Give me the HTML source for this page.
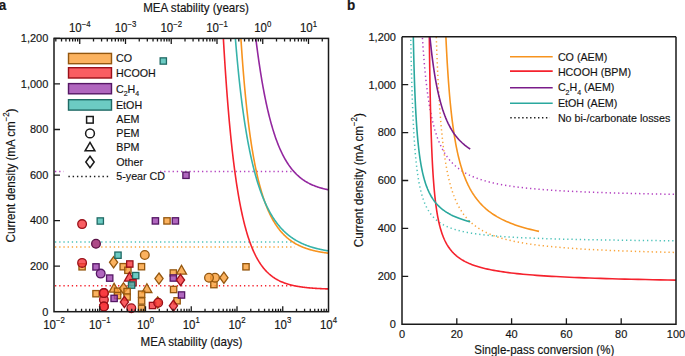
<!DOCTYPE html><html><head><meta charset="utf-8"><style>html,body{margin:0;padding:0;background:#fff;}svg{display:block;}text{font-family:"Liberation Sans", sans-serif;fill:#1a1a1a;stroke:#000;stroke-width:0.15px;}</style></head><body>
<svg width="685" height="356" viewBox="0 0 685 356">
<rect width="685" height="356" fill="#fff"/>
<text x="-1.3" y="10.2" style="font-size:13.5px;font-weight:bold" transform="matrix(1 0 0 1.045 0 -0.46)">a</text>
<text x="347.1" y="10.2" style="font-size:13.5px;font-weight:bold" transform="matrix(1 0 0 1.045 0 -0.46)">b</text>
<line x1="55" y1="171.5" x2="294.72" y2="171.5" stroke="#b342c0" stroke-width="1.5" stroke-dasharray="1.3 2.9"/>
<line x1="55" y1="242" x2="294.72" y2="242" stroke="#4cc2b9" stroke-width="1.5" stroke-dasharray="1.3 2.9"/>
<line x1="55" y1="246.9" x2="294.72" y2="246.9" stroke="#f9a43a" stroke-width="1.5" stroke-dasharray="1.3 2.9"/>
<line x1="55" y1="285.8" x2="294.72" y2="285.8" stroke="#f5222d" stroke-width="1.5" stroke-dasharray="1.3 2.9"/>
<clipPath id="ca"><rect x="54" y="38.4" width="274.5" height="273.3"/></clipPath>
<path d="M222.48 22.39 L223.02 32.21 L223.55 41.61 L224.09 50.61 L224.62 59.23 L225.15 67.49 L225.69 75.41 L226.22 83.00 L226.75 90.29 L227.29 97.28 L227.82 103.99 L228.36 110.43 L228.89 116.62 L229.42 122.57 L229.96 128.29 L230.49 133.79 L231.02 139.08 L231.56 144.17 L232.09 149.06 L232.63 153.78 L233.16 158.32 L233.69 162.69 L234.23 166.90 L234.76 170.96 L235.30 174.86 L235.83 178.63 L236.36 182.27 L236.90 185.77 L237.43 189.15 L237.96 192.41 L238.50 195.56 L239.03 198.59 L239.57 201.52 L240.10 204.35 L240.63 207.08 L241.17 209.72 L241.70 212.26 L242.23 214.72 L242.77 217.10 L243.30 219.39 L243.84 221.61 L244.37 223.76 L244.90 225.83 L245.44 227.83 L245.97 229.77 L246.50 231.64 L247.04 233.45 L247.57 235.20 L248.11 236.90 L248.64 238.53 L249.17 240.12 L249.71 241.65 L250.24 243.13 L250.77 244.57 L251.31 245.96 L251.84 247.30 L252.38 248.60 L252.91 249.86 L253.44 251.08 L253.98 252.26 L254.51 253.40 L255.04 254.51 L255.58 255.58 L256.11 256.62 L256.65 257.62 L257.18 258.59 L257.71 259.53 L258.25 260.45 L258.78 261.33 L259.31 262.19 L259.85 263.02 L260.38 263.82 L260.92 264.60 L261.45 265.35 L261.98 266.08 L262.52 266.79 L263.05 267.48 L263.58 268.14 L264.12 268.79 L264.65 269.41 L265.19 270.02 L265.72 270.60 L266.25 271.17 L266.79 271.72 L267.32 272.26 L267.85 272.77 L268.39 273.27 L268.92 273.76 L269.46 274.23 L269.99 274.69 L270.52 275.13 L271.06 275.56 L271.59 275.98 L272.12 276.38 L272.66 276.78 L273.19 277.16 L273.73 277.52 L274.26 277.88 L274.79 278.23 L275.33 278.56 L275.86 278.89 L276.39 279.21 L276.93 279.51 L277.46 279.81 L278.00 280.10 L278.53 280.38 L279.06 280.65 L279.60 280.91 L280.13 281.17 L280.66 281.41 L281.20 281.65 L281.73 281.89 L282.27 282.11 L282.80 282.33 L283.33 282.54 L283.87 282.75 L284.40 282.95 L284.93 283.14 L285.47 283.33 L286.00 283.51 L286.54 283.69 L287.07 283.86 L287.60 284.03 L288.14 284.19 L288.67 284.35 L289.20 284.50 L289.74 284.65 L290.27 284.79 L290.81 284.93 L291.34 285.06 L291.87 285.19 L292.41 285.32 L292.94 285.44 L293.47 285.56 L294.01 285.68 L294.54 285.79 L295.08 285.90 L295.61 286.01 L296.14 286.11 L296.68 286.21 L297.21 286.30 L297.74 286.40 L298.28 286.49 L298.81 286.58 L299.35 286.66 L299.88 286.75 L300.41 286.83 L300.95 286.91 L301.48 286.98 L302.01 287.05 L302.55 287.13 L303.08 287.20 L303.62 287.26 L304.15 287.33 L304.68 287.39 L305.22 287.45 L305.75 287.51 L306.28 287.57 L306.82 287.63 L307.35 287.68 L307.89 287.73 L308.42 287.79 L308.95 287.84 L309.49 287.88 L310.02 287.93 L310.55 287.98 L311.09 288.02 L311.62 288.06 L312.16 288.11 L312.69 288.15 L313.22 288.19 L313.76 288.22 L314.29 288.26 L314.82 288.30 L315.36 288.33 L315.89 288.36 L316.43 288.40 L316.96 288.43 L317.49 288.46 L318.03 288.49 L318.56 288.52 L319.09 288.55 L319.63 288.57 L320.16 288.60 L320.70 288.63 L321.23 288.65 L321.76 288.68 L322.30 288.70 L322.83 288.72 L323.36 288.74 L323.90 288.77 L324.43 288.79 L324.97 288.81 L325.50 288.83 L326.03 288.85 L326.57 288.86 L327.10 288.88 L327.63 288.90 L328.17 288.92 L328.70 288.93 L329.24 288.95 L329.77 288.96 L330.30 288.98" fill="none" stroke="#f5222d" stroke-width="1.6" clip-path="url(#ca)"/>
<path d="M239.86 21.34 L240.28 28.48 L240.70 35.31 L241.12 41.86 L241.55 48.15 L241.97 54.18 L242.39 59.97 L242.81 65.54 L243.24 70.90 L243.66 76.05 L244.08 81.01 L244.50 85.79 L244.93 90.40 L245.35 94.85 L245.77 99.13 L246.20 103.27 L246.62 107.27 L247.04 111.14 L247.46 114.87 L247.89 118.48 L248.31 121.98 L248.73 125.36 L249.15 128.63 L249.58 131.80 L250.00 134.88 L250.42 137.86 L250.84 140.74 L251.27 143.54 L251.69 146.26 L252.11 148.90 L252.54 151.45 L252.96 153.94 L253.38 156.35 L253.80 158.70 L254.23 160.97 L254.65 163.19 L255.07 165.34 L255.49 167.43 L255.92 169.47 L256.34 171.45 L256.76 173.38 L257.18 175.25 L257.61 177.08 L258.03 178.85 L258.45 180.58 L258.87 182.27 L259.30 183.91 L259.72 185.51 L260.14 187.07 L260.57 188.59 L260.99 190.07 L261.41 191.51 L261.83 192.92 L262.26 194.29 L262.68 195.63 L263.10 196.94 L263.52 198.21 L263.95 199.45 L264.37 200.67 L264.79 201.85 L265.21 203.01 L265.64 204.13 L266.06 205.23 L266.48 206.31 L266.91 207.36 L267.33 208.38 L267.75 209.39 L268.17 210.36 L268.60 211.32 L269.02 212.25 L269.44 213.16 L269.86 214.06 L270.29 214.93 L270.71 215.78 L271.13 216.61 L271.55 217.42 L271.98 218.22 L272.40 219.00 L272.82 219.76 L273.25 220.50 L273.67 221.23 L274.09 221.94 L274.51 222.63 L274.94 223.31 L275.36 223.98 L275.78 224.63 L276.20 225.26 L276.63 225.88 L277.05 226.49 L277.47 227.09 L277.89 227.67 L278.32 228.24 L278.74 228.80 L279.16 229.35 L279.58 229.88 L280.01 230.40 L280.43 230.92 L280.85 231.42 L281.28 231.91 L281.70 232.39 L282.12 232.86 L282.54 233.32 L282.97 233.77 L283.39 234.21 L283.81 234.64 L284.23 235.06 L284.66 235.48 L285.08 235.88 L285.50 236.28 L285.92 236.67 L286.35 237.05 L286.77 237.42 L287.19 237.79 L287.62 238.15 L288.04 238.50 L288.46 238.84 L288.88 239.18 L289.31 239.51 L289.73 239.83 L290.15 240.14 L290.57 240.45 L291.00 240.76 L291.42 241.06 L291.84 241.35 L292.26 241.63 L292.69 241.91 L293.11 242.18 L293.53 242.45 L293.96 242.72 L294.38 242.97 L294.80 243.23 L295.22 243.47 L295.65 243.72 L296.07 243.95 L296.49 244.19 L296.91 244.41 L297.34 244.64 L297.76 244.86 L298.18 245.07 L298.60 245.28 L299.03 245.49 L299.45 245.69 L299.87 245.89 L300.30 246.08 L300.72 246.27 L301.14 246.46 L301.56 246.64 L301.99 246.82 L302.41 247.00 L302.83 247.17 L303.25 247.34 L303.68 247.50 L304.10 247.66 L304.52 247.82 L304.94 247.98 L305.37 248.13 L305.79 248.28 L306.21 248.43 L306.63 248.57 L307.06 248.71 L307.48 248.85 L307.90 248.99 L308.33 249.12 L308.75 249.25 L309.17 249.38 L309.59 249.50 L310.02 249.63 L310.44 249.75 L310.86 249.86 L311.28 249.98 L311.71 250.09 L312.13 250.20 L312.55 250.31 L312.97 250.42 L313.40 250.53 L313.82 250.63 L314.24 250.73 L314.67 250.83 L315.09 250.92 L315.51 251.02 L315.93 251.11 L316.36 251.20 L316.78 251.29 L317.20 251.38 L317.62 251.47 L318.05 251.55 L318.47 251.64 L318.89 251.72 L319.31 251.80 L319.74 251.87 L320.16 251.95 L320.58 252.03 L321.01 252.10 L321.43 252.17 L321.85 252.24 L322.27 252.31 L322.70 252.38 L323.12 252.45 L323.54 252.51 L323.96 252.58 L324.39 252.64 L324.81 252.70 L325.23 252.76 L325.65 252.82 L326.08 252.88 L326.50 252.94 L326.92 252.99 L327.34 253.05 L327.77 253.10 L328.19 253.15 L328.61 253.21 L329.04 253.26 L329.46 253.31 L329.88 253.35 L330.30 253.40" fill="none" stroke="#f7931e" stroke-width="1.6" clip-path="url(#ca)"/>
<path d="M234.21 23.19 L234.66 29.31 L235.12 35.21 L235.58 40.90 L236.04 46.39 L236.49 51.69 L236.95 56.80 L237.41 61.75 L237.87 66.53 L238.32 71.16 L238.78 75.63 L239.24 79.97 L239.70 84.17 L240.15 88.23 L240.61 92.18 L241.07 96.00 L241.53 99.71 L241.98 103.31 L242.44 106.80 L242.90 110.19 L243.36 113.49 L243.81 116.69 L244.27 119.80 L244.73 122.83 L245.19 125.77 L245.65 128.63 L246.10 131.42 L246.56 134.13 L247.02 136.77 L247.48 139.33 L247.93 141.84 L248.39 144.27 L248.85 146.65 L249.31 148.96 L249.76 151.22 L250.22 153.42 L250.68 155.56 L251.14 157.65 L251.59 159.69 L252.05 161.68 L252.51 163.62 L252.97 165.52 L253.42 167.37 L253.88 169.17 L254.34 170.94 L254.80 172.66 L255.26 174.34 L255.71 175.98 L256.17 177.59 L256.63 179.15 L257.09 180.68 L257.54 182.18 L258.00 183.64 L258.46 185.07 L258.92 186.47 L259.37 187.84 L259.83 189.17 L260.29 190.48 L260.75 191.76 L261.20 193.01 L261.66 194.23 L262.12 195.43 L262.58 196.60 L263.03 197.74 L263.49 198.86 L263.95 199.96 L264.41 201.03 L264.87 202.08 L265.32 203.11 L265.78 204.12 L266.24 205.10 L266.70 206.07 L267.15 207.01 L267.61 207.94 L268.07 208.84 L268.53 209.73 L268.98 210.60 L269.44 211.45 L269.90 212.28 L270.36 213.10 L270.81 213.90 L271.27 214.68 L271.73 215.45 L272.19 216.20 L272.64 216.94 L273.10 217.66 L273.56 218.36 L274.02 219.06 L274.47 219.74 L274.93 220.40 L275.39 221.05 L275.85 221.69 L276.31 222.32 L276.76 222.93 L277.22 223.54 L277.68 224.13 L278.14 224.70 L278.59 225.27 L279.05 225.83 L279.51 226.37 L279.97 226.91 L280.42 227.43 L280.88 227.94 L281.34 228.45 L281.80 228.94 L282.25 229.42 L282.71 229.90 L283.17 230.36 L283.63 230.82 L284.08 231.27 L284.54 231.71 L285.00 232.14 L285.46 232.56 L285.92 232.98 L286.37 233.38 L286.83 233.78 L287.29 234.17 L287.75 234.55 L288.20 234.93 L288.66 235.30 L289.12 235.66 L289.58 236.02 L290.03 236.36 L290.49 236.71 L290.95 237.04 L291.41 237.37 L291.86 237.69 L292.32 238.01 L292.78 238.32 L293.24 238.62 L293.69 238.92 L294.15 239.22 L294.61 239.50 L295.07 239.78 L295.53 240.06 L295.98 240.33 L296.44 240.60 L296.90 240.86 L297.36 241.12 L297.81 241.37 L298.27 241.62 L298.73 241.86 L299.19 242.10 L299.64 242.33 L300.10 242.56 L300.56 242.78 L301.02 243.00 L301.47 243.22 L301.93 243.43 L302.39 243.64 L302.85 243.85 L303.30 244.05 L303.76 244.24 L304.22 244.44 L304.68 244.63 L305.13 244.81 L305.59 245.00 L306.05 245.18 L306.51 245.35 L306.97 245.53 L307.42 245.69 L307.88 245.86 L308.34 246.02 L308.80 246.18 L309.25 246.34 L309.71 246.50 L310.17 246.65 L310.63 246.80 L311.08 246.94 L311.54 247.09 L312.00 247.23 L312.46 247.36 L312.91 247.50 L313.37 247.63 L313.83 247.76 L314.29 247.89 L314.74 248.02 L315.20 248.14 L315.66 248.26 L316.12 248.38 L316.58 248.50 L317.03 248.61 L317.49 248.73 L317.95 248.84 L318.41 248.94 L318.86 249.05 L319.32 249.15 L319.78 249.26 L320.24 249.36 L320.69 249.46 L321.15 249.55 L321.61 249.65 L322.07 249.74 L322.52 249.83 L322.98 249.92 L323.44 250.01 L323.90 250.10 L324.35 250.18 L324.81 250.27 L325.27 250.35 L325.73 250.43 L326.18 250.51 L326.64 250.59 L327.10 250.66 L327.56 250.74 L328.02 250.81 L328.47 250.88 L328.93 250.95 L329.39 251.02 L329.85 251.09 L330.30 251.16" fill="none" stroke="#37b3aa" stroke-width="1.6" clip-path="url(#ca)"/>
<path d="M254.04 23.21 L254.57 27.89 L255.10 32.44 L255.63 36.86 L256.16 41.15 L256.69 45.32 L257.22 49.37 L257.75 53.31 L258.27 57.14 L258.80 60.85 L259.33 64.47 L259.86 67.98 L260.39 71.39 L260.92 74.71 L261.45 77.93 L261.98 81.07 L262.51 84.12 L263.04 87.08 L263.57 89.96 L264.10 92.76 L264.63 95.48 L265.16 98.13 L265.69 100.70 L266.22 103.21 L266.75 105.64 L267.28 108.01 L267.81 110.31 L268.34 112.55 L268.87 114.72 L269.40 116.84 L269.93 118.90 L270.46 120.91 L270.99 122.85 L271.52 124.75 L272.05 126.59 L272.57 128.39 L273.10 130.13 L273.63 131.83 L274.16 133.48 L274.69 135.09 L275.22 136.65 L275.75 138.17 L276.28 139.65 L276.81 141.09 L277.34 142.49 L277.87 143.85 L278.40 145.18 L278.93 146.47 L279.46 147.73 L279.99 148.95 L280.52 150.14 L281.05 151.29 L281.58 152.42 L282.11 153.51 L282.64 154.58 L283.17 155.62 L283.70 156.63 L284.23 157.61 L284.76 158.57 L285.29 159.50 L285.82 160.40 L286.34 161.28 L286.87 162.14 L287.40 162.98 L287.93 163.79 L288.46 164.58 L288.99 165.35 L289.52 166.10 L290.05 166.83 L290.58 167.54 L291.11 168.23 L291.64 168.90 L292.17 169.56 L292.70 170.19 L293.23 170.81 L293.76 171.42 L294.29 172.01 L294.82 172.58 L295.35 173.13 L295.88 173.68 L296.41 174.20 L296.94 174.72 L297.47 175.22 L298.00 175.70 L298.53 176.18 L299.06 176.64 L299.59 177.09 L300.12 177.53 L300.64 177.95 L301.17 178.37 L301.70 178.77 L302.23 179.16 L302.76 179.54 L303.29 179.92 L303.82 180.28 L304.35 180.63 L304.88 180.97 L305.41 181.31 L305.94 181.63 L306.47 181.95 L307.00 182.26 L307.53 182.56 L308.06 182.85 L308.59 183.14 L309.12 183.41 L309.65 183.68 L310.18 183.94 L310.71 184.20 L311.24 184.45 L311.77 184.69 L312.30 184.93 L312.83 185.16 L313.36 185.38 L313.89 185.60 L314.41 185.81 L314.94 186.02 L315.47 186.22 L316.00 186.41 L316.53 186.60 L317.06 186.79 L317.59 186.97 L318.12 187.15 L318.65 187.32 L319.18 187.48 L319.71 187.65 L320.24 187.80 L320.77 187.96 L321.30 188.11 L321.83 188.25 L322.36 188.39 L322.89 188.53 L323.42 188.67 L323.95 188.80 L324.48 188.93 L325.01 189.05 L325.54 189.17 L326.07 189.29 L326.60 189.40 L327.13 189.51 L327.66 189.62 L328.19 189.73 L328.71 189.83 L329.24 189.93 L329.77 190.03 L330.30 190.13" fill="none" stroke="#93279f" stroke-width="1.6" clip-path="url(#ca)"/>
<rect x="160.15" y="57.85" width="6.3" height="6.3" fill="#47beb4" fill-opacity="0.8" stroke="#206a65" stroke-width="1.3"/>
<rect x="182.85" y="172.15" width="6.3" height="6.3" fill="#9c40ae" fill-opacity="0.8" stroke="#551764" stroke-width="1.3"/>
<circle cx="82.1" cy="224.1" r="4.35" fill="#f8353b" fill-opacity="0.8" stroke="#9a1019" stroke-width="1.3"/>
<rect x="97.15" y="217.85" width="6.3" height="6.3" fill="#47beb4" fill-opacity="0.8" stroke="#206a65" stroke-width="1.3"/>
<rect x="152.25" y="217.75" width="6.3" height="6.3" fill="#9c40ae" fill-opacity="0.8" stroke="#551764" stroke-width="1.3"/>
<rect x="163.85" y="217.75" width="6.3" height="6.3" fill="#fa9f37" fill-opacity="0.8" stroke="#94570f" stroke-width="1.3"/>
<rect x="172.25" y="217.75" width="6.3" height="6.3" fill="#9c40ae" fill-opacity="0.8" stroke="#551764" stroke-width="1.3"/>
<circle cx="96" cy="243.8" r="4.35" fill="#ad4a87" fill-opacity="1" stroke="#5a1246" stroke-width="1.3"/>
<path d="M113.6 256.7 L117.7 262.3 L113.6 267.9 L109.5 262.3 Z" fill="#fa9f37" fill-opacity="0.8" stroke="#94570f" stroke-width="1.3"/>
<rect x="114.85" y="252.05" width="6.3" height="6.3" fill="#47beb4" fill-opacity="0.8" stroke="#206a65" stroke-width="1.3"/>
<circle cx="144.8" cy="255" r="4.35" fill="#fa9f37" fill-opacity="0.8" stroke="#94570f" stroke-width="1.3"/>
<rect x="78.95" y="263.65" width="6.3" height="6.3" fill="#fa9f37" fill-opacity="0.8" stroke="#94570f" stroke-width="1.3"/>
<circle cx="82.1" cy="262.9" r="4.35" fill="#f8353b" fill-opacity="0.8" stroke="#9a1019" stroke-width="1.3"/>
<rect x="92.85" y="263.75" width="6.3" height="6.3" fill="#9c40ae" fill-opacity="0.8" stroke="#551764" stroke-width="1.3"/>
<circle cx="100.7" cy="273.6" r="4.35" fill="#9c40ae" fill-opacity="0.8" stroke="#551764" stroke-width="1.3"/>
<rect x="106.55" y="274.95" width="6.3" height="6.3" fill="#9c40ae" fill-opacity="0.8" stroke="#551764" stroke-width="1.3"/>
<rect x="120.05" y="263.55" width="6.3" height="6.3" fill="#fa9f37" fill-opacity="0.8" stroke="#94570f" stroke-width="1.3"/>
<rect x="124.75" y="267.15" width="6.3" height="6.3" fill="#fa9f37" fill-opacity="0.8" stroke="#94570f" stroke-width="1.3"/>
<rect x="126.65" y="260.85" width="6.3" height="6.3" fill="#f8353b" fill-opacity="0.8" stroke="#9a1019" stroke-width="1.3"/>
<rect x="138.35" y="263.55" width="6.3" height="6.3" fill="#fa9f37" fill-opacity="0.8" stroke="#94570f" stroke-width="1.3"/>
<path d="M129.4 272.3 L134.4 281.1 L124.4 281.1 Z" fill="#f8353b" fill-opacity="0.8" stroke="#9a1019" stroke-width="1.3"/>
<rect x="132.55" y="272.45" width="6.3" height="6.3" fill="#47beb4" fill-opacity="0.8" stroke="#206a65" stroke-width="1.3"/>
<rect x="129.85" y="279.55" width="6.3" height="6.3" fill="#f8353b" fill-opacity="0.8" stroke="#9a1019" stroke-width="1.3"/>
<rect x="128.45" y="281.95" width="6.3" height="6.3" fill="#47beb4" fill-opacity="0.8" stroke="#206a65" stroke-width="1.3"/>
<path d="M159 273 L163.1 278.6 L159 284.2 L154.9 278.6 Z" fill="#fa9f37" fill-opacity="0.8" stroke="#94570f" stroke-width="1.3"/>
<rect x="92.85" y="290.55" width="6.3" height="6.3" fill="#fa9f37" fill-opacity="0.8" stroke="#94570f" stroke-width="1.3"/>
<circle cx="103.9" cy="299.8" r="4.35" fill="#f8353b" fill-opacity="0.8" stroke="#9a1019" stroke-width="1.3"/>
<circle cx="103.9" cy="293.1" r="4.35" fill="#f8353b" fill-opacity="0.8" stroke="#9a1019" stroke-width="1.3"/>
<circle cx="103.9" cy="293.1" r="4.35" fill="#f8353b" fill-opacity="0.8" stroke="#9a1019" stroke-width="1.3"/>
<circle cx="103.9" cy="306.5" r="4.35" fill="#f8353b" fill-opacity="0.8" stroke="#9a1019" stroke-width="1.3"/>
<circle cx="103.9" cy="306.5" r="4.35" fill="#f8353b" fill-opacity="0.8" stroke="#9a1019" stroke-width="1.3"/>
<path d="M114.1 283.3 L119.1 292.1 L109.1 292.1 Z" fill="#fa9f37" fill-opacity="0.8" stroke="#94570f" stroke-width="1.3"/>
<rect x="114.45" y="288.05" width="6.3" height="6.3" fill="#fa9f37" fill-opacity="0.8" stroke="#94570f" stroke-width="1.3"/>
<path d="M123.5 282.8 L127.6 288.4 L123.5 294 L119.4 288.4 Z" fill="#fa9f37" fill-opacity="0.8" stroke="#94570f" stroke-width="1.3"/>
<rect x="123.95" y="288.45" width="6.3" height="6.3" fill="#fa9f37" fill-opacity="0.8" stroke="#94570f" stroke-width="1.3"/>
<rect x="114.45" y="292.45" width="6.3" height="6.3" fill="#fa9f37" fill-opacity="0.8" stroke="#94570f" stroke-width="1.3"/>
<rect x="110.95" y="295.25" width="6.3" height="6.3" fill="#9c40ae" fill-opacity="0.8" stroke="#551764" stroke-width="1.3"/>
<rect x="123.95" y="293.85" width="6.3" height="6.3" fill="#fa9f37" fill-opacity="0.8" stroke="#94570f" stroke-width="1.3"/>
<path d="M124.4 296.4 L128.5 302 L124.4 307.6 L120.3 302 Z" fill="#f8353b" fill-opacity="0.8" stroke="#9a1019" stroke-width="1.3"/>
<circle cx="131.3" cy="308.3" r="4.35" fill="#f8353b" fill-opacity="0.8" stroke="#9a1019" stroke-width="1.3"/>
<path d="M146.9 283.7 L151.9 292.5 L141.9 292.5 Z" fill="#fa9f37" fill-opacity="0.8" stroke="#94570f" stroke-width="1.3"/>
<rect x="138.45" y="291.05" width="6.3" height="6.3" fill="#fa9f37" fill-opacity="0.8" stroke="#94570f" stroke-width="1.3"/>
<rect x="138.45" y="297.85" width="6.3" height="6.3" fill="#fa9f37" fill-opacity="0.8" stroke="#94570f" stroke-width="1.3"/>
<rect x="138.45" y="305.25" width="6.3" height="6.3" fill="#fa9f37" fill-opacity="0.8" stroke="#94570f" stroke-width="1.3"/>
<path d="M157.7 296.9 L161.8 302.5 L157.7 308.1 L153.6 302.5 Z" fill="#fa9f37" fill-opacity="0.8" stroke="#94570f" stroke-width="1.3"/>
<rect x="149.35" y="302.35" width="6.3" height="6.3" fill="#f8353b" fill-opacity="0.8" stroke="#9a1019" stroke-width="1.3"/>
<circle cx="158.2" cy="302.8" r="4.35" fill="#f8353b" fill-opacity="0.8" stroke="#9a1019" stroke-width="1.3"/>
<path d="M181.5 265.3 L186.5 274.1 L176.5 274.1 Z" fill="#fa9f37" fill-opacity="0.8" stroke="#94570f" stroke-width="1.3"/>
<rect x="170.15" y="269.85" width="6.3" height="6.3" fill="#fa9f37" fill-opacity="0.8" stroke="#94570f" stroke-width="1.3"/>
<rect x="170.15" y="274.85" width="6.3" height="6.3" fill="#9c40ae" fill-opacity="0.8" stroke="#551764" stroke-width="1.3"/>
<path d="M180.5 274.4 L184.6 280 L180.5 285.6 L176.4 280 Z" fill="#f8353b" fill-opacity="0.8" stroke="#9a1019" stroke-width="1.3"/>
<rect x="170.45" y="286.35" width="6.3" height="6.3" fill="#fa9f37" fill-opacity="0.8" stroke="#94570f" stroke-width="1.3"/>
<rect x="173.95" y="297.65" width="6.3" height="6.3" fill="#fa9f37" fill-opacity="0.8" stroke="#94570f" stroke-width="1.3"/>
<rect x="178.35" y="291.85" width="6.3" height="6.3" fill="#9c40ae" fill-opacity="0.8" stroke="#551764" stroke-width="1.3"/>
<path d="M173.4 300.2 L177.5 305.8 L173.4 311.4 L169.3 305.8 Z" fill="#f8353b" fill-opacity="0.8" stroke="#9a1019" stroke-width="1.3"/>
<rect x="210.75" y="281.45" width="6.3" height="6.3" fill="#fa9f37" fill-opacity="0.8" stroke="#94570f" stroke-width="1.3"/>
<circle cx="215" cy="277.8" r="4.35" fill="#fa9f37" fill-opacity="0.8" stroke="#94570f" stroke-width="1.3"/>
<circle cx="209" cy="277.8" r="4.35" fill="#fa9f37" fill-opacity="0.8" stroke="#94570f" stroke-width="1.3"/>
<path d="M223.9 272.1 L228 277.7 L223.9 283.3 L219.8 277.7 Z" fill="#fa9f37" fill-opacity="0.8" stroke="#94570f" stroke-width="1.3"/>
<rect x="242.85" y="263.65" width="6.3" height="6.3" fill="#fa9f37" fill-opacity="0.8" stroke="#94570f" stroke-width="1.3"/>
<rect x="63.5" y="44" width="95.5" height="137.5" fill="#fff"/>
<rect x="68.5" y="53.4" width="43" height="10.3" fill="#fbb25f" stroke="#94570f" stroke-width="1.4"/>
<text x="116" y="62.45" style="font-size:10.7px" transform="matrix(1 0 0 1.045 0 -2.81)">CO</text>
<rect x="68.5" y="67.7" width="43" height="10.3" fill="#f95d62" stroke="#9a1019" stroke-width="1.4"/>
<text x="116" y="76.75" style="font-size:10.7px" transform="matrix(1 0 0 1.045 0 -3.45)">HCOOH</text>
<rect x="68.5" y="83.6" width="43" height="10.2" fill="#b066be" stroke="#551764" stroke-width="1.4"/>
<text x="116" y="92.6" style="font-size:10.7px" transform="matrix(1 0 0 1.045 0 -4.17)">C<tspan dy="3.2" style="font-size:7px">2</tspan><tspan dy="-3.2">H</tspan><tspan dy="3.2" style="font-size:7px">4</tspan></text>
<rect x="68.5" y="99.7" width="43" height="10.4" fill="#6ccbc3" stroke="#206a65" stroke-width="1.4"/>
<text x="116" y="108.8" style="font-size:10.7px" transform="matrix(1 0 0 1.045 0 -4.9)">EtOH</text>
<rect x="86.6" y="116.5" width="6.6" height="6.6" fill="#fff" stroke="#1a1a1a" stroke-width="1.5"/>
<circle cx="90" cy="133.4" r="4.4" fill="#fff" stroke="#1a1a1a" stroke-width="1.5"/>
<path d="M90 142.4 L94.9 150.8 L85.1 150.8 Z" fill="#fff" stroke="#1a1a1a" stroke-width="1.5"/>
<path d="M90 156.2 L94.2 162 L90 167.8 L85.8 162 Z" fill="#fff" stroke="#1a1a1a" stroke-width="1.5"/>
<line x1="68.4" y1="176.5" x2="109" y2="176.5" stroke="#1a1a1a" stroke-width="1.5" stroke-dasharray="1.4 2.86"/>
<text x="116.3" y="123.4" style="font-size:10.7px" transform="matrix(1 0 0 1.045 0 -5.55)">AEM</text>
<text x="116.3" y="137.2" style="font-size:10.7px" transform="matrix(1 0 0 1.045 0 -6.17)">PEM</text>
<text x="116.3" y="151.5" style="font-size:10.7px" transform="matrix(1 0 0 1.045 0 -6.82)">BPM</text>
<text x="116.3" y="165.7" style="font-size:10.7px" transform="matrix(1 0 0 1.045 0 -7.46)">Other</text>
<text x="116.3" y="180.4" style="font-size:10.7px" transform="matrix(1 0 0 1.045 0 -8.12)">5-year CD</text>
<rect x="54" y="38.4" width="274.5" height="273.3" fill="none" stroke="#1a1a1a" stroke-width="1.5"/>
<path d="M67.77 311.70v-3.00 M75.83 311.70v-3.00 M81.54 311.70v-3.00 M85.98 311.70v-3.00 M89.60 311.70v-3.00 M92.66 311.70v-3.00 M95.32 311.70v-3.00 M97.66 311.70v-3.00 M99.75 311.70v-5.50 M113.52 311.70v-3.00 M121.58 311.70v-3.00 M127.29 311.70v-3.00 M131.73 311.70v-3.00 M135.35 311.70v-3.00 M138.41 311.70v-3.00 M141.07 311.70v-3.00 M143.41 311.70v-3.00 M145.50 311.70v-5.50 M159.27 311.70v-3.00 M167.33 311.70v-3.00 M173.04 311.70v-3.00 M177.48 311.70v-3.00 M181.10 311.70v-3.00 M184.16 311.70v-3.00 M186.82 311.70v-3.00 M189.16 311.70v-3.00 M191.25 311.70v-5.50 M205.02 311.70v-3.00 M213.08 311.70v-3.00 M218.79 311.70v-3.00 M223.23 311.70v-3.00 M226.85 311.70v-3.00 M229.91 311.70v-3.00 M232.57 311.70v-3.00 M234.91 311.70v-3.00 M237.00 311.70v-5.50 M250.77 311.70v-3.00 M258.83 311.70v-3.00 M264.54 311.70v-3.00 M268.98 311.70v-3.00 M272.60 311.70v-3.00 M275.66 311.70v-3.00 M278.32 311.70v-3.00 M280.66 311.70v-3.00 M282.75 311.70v-5.50 M296.52 311.70v-3.00 M304.58 311.70v-3.00 M310.29 311.70v-3.00 M314.73 311.70v-3.00 M318.35 311.70v-3.00 M321.41 311.70v-3.00 M324.07 311.70v-3.00 M326.41 311.70v-3.00 M55.82 38.40v3.00 M61.53 38.40v3.00 M65.97 38.40v3.00 M69.59 38.40v3.00 M72.65 38.40v3.00 M75.30 38.40v3.00 M77.65 38.40v3.00 M79.74 38.40v5.50 M93.51 38.40v3.00 M101.57 38.40v3.00 M107.28 38.40v3.00 M111.72 38.40v3.00 M115.34 38.40v3.00 M118.40 38.40v3.00 M121.05 38.40v3.00 M123.40 38.40v3.00 M125.49 38.40v5.50 M139.26 38.40v3.00 M147.32 38.40v3.00 M153.03 38.40v3.00 M157.47 38.40v3.00 M161.09 38.40v3.00 M164.15 38.40v3.00 M166.80 38.40v3.00 M169.15 38.40v3.00 M171.24 38.40v5.50 M185.01 38.40v3.00 M193.07 38.40v3.00 M198.78 38.40v3.00 M203.22 38.40v3.00 M206.84 38.40v3.00 M209.90 38.40v3.00 M212.55 38.40v3.00 M214.90 38.40v3.00 M216.99 38.40v5.50 M230.76 38.40v3.00 M238.82 38.40v3.00 M244.53 38.40v3.00 M248.97 38.40v3.00 M252.59 38.40v3.00 M255.65 38.40v3.00 M258.30 38.40v3.00 M260.65 38.40v3.00 M262.74 38.40v5.50 M276.51 38.40v3.00 M284.57 38.40v3.00 M290.28 38.40v3.00 M294.72 38.40v3.00 M298.34 38.40v3.00 M301.40 38.40v3.00 M304.05 38.40v3.00 M306.40 38.40v3.00 M308.49 38.40v5.50 M322.26 38.40v3.00 M54.00 266.15h6 M54.00 220.60h6 M54.00 175.05h6 M54.00 129.50h6 M54.00 83.95h6 M54.00 38.40h6" stroke="#1a1a1a" stroke-width="1.3" fill="none"/>
<text x="48.3" y="315.6" text-anchor="end" style="font-size:11px" transform="matrix(1 0 0 1.045 0 -14.2)">0</text>
<text x="48.3" y="270.05" text-anchor="end" style="font-size:11px" transform="matrix(1 0 0 1.045 0 -12.15)">200</text>
<text x="48.3" y="224.5" text-anchor="end" style="font-size:11px" transform="matrix(1 0 0 1.045 0 -10.1)">400</text>
<text x="48.3" y="178.95" text-anchor="end" style="font-size:11px" transform="matrix(1 0 0 1.045 0 -8.05)">600</text>
<text x="48.3" y="133.4" text-anchor="end" style="font-size:11px" transform="matrix(1 0 0 1.045 0 -6)">800</text>
<text x="48.3" y="87.85" text-anchor="end" style="font-size:11px" transform="matrix(1 0 0 1.045 0 -3.95)">1,000</text>
<text x="48.3" y="42.3" text-anchor="end" style="font-size:11px" transform="matrix(1 0 0 1.045 0 -1.9)">1,200</text>
<text x="54" y="328.7" text-anchor="middle" style="font-size:11.5px" transform="matrix(1 0 0 1.045 0 -14.79)">10<tspan dy="-5.6" style="font-size:7.8px">−2</tspan></text>
<text x="99.75" y="328.7" text-anchor="middle" style="font-size:11.5px" transform="matrix(1 0 0 1.045 0 -14.79)">10<tspan dy="-5.6" style="font-size:7.8px">−1</tspan></text>
<text x="145.5" y="328.7" text-anchor="middle" style="font-size:11.5px" transform="matrix(1 0 0 1.045 0 -14.79)">10<tspan dy="-5.6" style="font-size:7.8px">0</tspan></text>
<text x="191.25" y="328.7" text-anchor="middle" style="font-size:11.5px" transform="matrix(1 0 0 1.045 0 -14.79)">10<tspan dy="-5.6" style="font-size:7.8px">1</tspan></text>
<text x="237" y="328.7" text-anchor="middle" style="font-size:11.5px" transform="matrix(1 0 0 1.045 0 -14.79)">10<tspan dy="-5.6" style="font-size:7.8px">2</tspan></text>
<text x="282.75" y="328.7" text-anchor="middle" style="font-size:11.5px" transform="matrix(1 0 0 1.045 0 -14.79)">10<tspan dy="-5.6" style="font-size:7.8px">3</tspan></text>
<text x="328.5" y="328.7" text-anchor="middle" style="font-size:11.5px" transform="matrix(1 0 0 1.045 0 -14.79)">10<tspan dy="-5.6" style="font-size:7.8px">4</tspan></text>
<text x="79.74" y="32.4" text-anchor="middle" style="font-size:11.5px" transform="matrix(1 0 0 1.045 0 -1.46)">10<tspan dy="-5.6" style="font-size:7.8px">−4</tspan></text>
<text x="125.49" y="32.4" text-anchor="middle" style="font-size:11.5px" transform="matrix(1 0 0 1.045 0 -1.46)">10<tspan dy="-5.6" style="font-size:7.8px">−3</tspan></text>
<text x="171.24" y="32.4" text-anchor="middle" style="font-size:11.5px" transform="matrix(1 0 0 1.045 0 -1.46)">10<tspan dy="-5.6" style="font-size:7.8px">−2</tspan></text>
<text x="216.99" y="32.4" text-anchor="middle" style="font-size:11.5px" transform="matrix(1 0 0 1.045 0 -1.46)">10<tspan dy="-5.6" style="font-size:7.8px">−1</tspan></text>
<text x="262.74" y="32.4" text-anchor="middle" style="font-size:11.5px" transform="matrix(1 0 0 1.045 0 -1.46)">10<tspan dy="-5.6" style="font-size:7.8px">0</tspan></text>
<text x="308.49" y="32.4" text-anchor="middle" style="font-size:11.5px" transform="matrix(1 0 0 1.045 0 -1.46)">10<tspan dy="-5.6" style="font-size:7.8px">1</tspan></text>
<text x="191.5" y="346" text-anchor="middle" style="font-size:11.6px" transform="matrix(1 0 0 1.045 0 -15.57)">MEA stability (days)</text>
<text x="196" y="11.8" text-anchor="middle" style="font-size:11.6px" transform="matrix(1 0 0 1.045 0 -0.53)">MEA stability (years)</text>
<text transform="translate(15.1 175.5) rotate(-90) scale(1 1.045)" text-anchor="middle" style="font-size:11.6px">Current density (mA cm<tspan dy="-5.6" style="font-size:7.8px">−2</tspan><tspan dy="5.6">)</tspan></text>
<clipPath id="cb"><rect x="402" y="36.8" width="274" height="287.4"/></clipPath>
<path d="M410.63 31.36 L410.77 39.01 L410.91 46.38 L411.05 53.48 L411.20 60.32 L411.35 66.92 L411.51 73.28 L411.68 79.41 L411.85 85.32 L412.02 91.01 L412.20 96.50 L412.39 101.79 L412.59 106.89 L412.79 111.80 L412.99 116.53 L413.21 121.10 L413.43 125.50 L413.66 129.74 L413.89 133.83 L414.14 137.76 L414.39 141.56 L414.65 145.22 L414.92 148.75 L415.20 152.15 L415.49 155.42 L415.79 158.58 L416.10 161.63 L416.42 164.56 L416.75 167.39 L417.09 170.11 L417.44 172.74 L417.80 175.27 L418.18 177.71 L418.57 180.06 L418.97 182.33 L419.39 184.51 L419.82 186.62 L420.26 188.65 L420.72 190.61 L421.19 192.49 L421.68 194.31 L422.19 196.06 L422.72 197.75 L423.26 199.38 L423.82 200.94 L424.40 202.46 L425.00 203.91 L425.61 205.32 L426.25 206.67 L426.91 207.97 L427.60 209.23 L428.31 210.44 L429.04 211.61 L429.79 212.74 L430.57 213.82 L431.38 214.87 L432.21 215.88 L433.07 216.85 L433.97 217.78 L434.89 218.69 L435.84 219.56 L436.82 220.40 L437.84 221.20 L438.89 221.98 L439.98 222.73 L441.11 223.46 L442.27 224.15 L443.47 224.83 L444.71 225.47 L445.99 226.10 L447.32 226.70 L448.69 227.28 L450.11 227.84 L451.58 228.38 L453.09 228.90 L454.66 229.40 L456.28 229.88 L457.95 230.35 L459.68 230.79 L461.47 231.23 L463.32 231.64 L465.23 232.04 L467.20 232.43 L469.25 232.80 L471.36 233.16 L473.54 233.51 L475.80 233.84 L478.13 234.16 L480.54 234.47 L483.03 234.77 L485.61 235.06 L488.27 235.34 L491.02 235.61 L493.87 235.86 L496.81 236.11 L499.85 236.35 L502.99 236.58 L506.24 236.81 L509.60 237.02 L513.07 237.23 L516.66 237.43 L520.37 237.62 L524.20 237.80 L528.17 237.98 L532.26 238.15 L536.50 238.32 L540.88 238.48 L545.41 238.63 L550.08 238.78 L554.92 238.93 L559.92 239.06 L565.09 239.20 L570.43 239.32 L575.96 239.45 L581.66 239.57 L587.57 239.68 L593.67 239.79 L599.97 239.90 L606.49 240.00 L613.23 240.10 L620.20 240.20 L627.40 240.29 L634.84 240.38 L642.54 240.46 L650.49 240.54 L658.71 240.62 L667.21 240.70 L676.00 240.77" fill="none" stroke="#4cc2b9" stroke-width="1.5" stroke-dasharray="1.3 2.9" clip-path="url(#cb)"/>
<path d="M436.14 32.79 L436.41 40.89 L436.69 48.71 L436.98 56.24 L437.28 63.50 L437.59 70.50 L437.91 77.25 L438.24 83.75 L438.59 90.02 L438.94 96.06 L439.31 101.88 L439.68 107.50 L440.07 112.91 L440.48 118.12 L440.89 123.15 L441.33 127.99 L441.77 132.67 L442.23 137.17 L442.71 141.51 L443.20 145.69 L443.71 149.72 L444.23 153.61 L444.77 157.35 L445.33 160.96 L445.91 164.44 L446.51 167.80 L447.13 171.03 L447.77 174.15 L448.43 177.15 L449.11 180.05 L449.81 182.84 L450.54 185.53 L451.30 188.12 L452.07 190.62 L452.88 193.03 L453.71 195.35 L454.57 197.59 L455.46 199.75 L456.37 201.83 L457.32 203.83 L458.30 205.77 L459.31 207.63 L460.36 209.42 L461.44 211.15 L462.55 212.82 L463.71 214.43 L464.90 215.98 L466.13 217.47 L467.41 218.91 L468.72 220.30 L470.08 221.64 L471.49 222.93 L472.94 224.17 L474.44 225.37 L475.99 226.52 L477.60 227.64 L479.25 228.71 L480.96 229.74 L482.73 230.74 L484.56 231.70 L486.45 232.63 L488.40 233.52 L490.42 234.38 L492.50 235.21 L494.66 236.01 L496.88 236.78 L499.18 237.52 L501.56 238.24 L504.02 238.93 L506.55 239.60 L509.18 240.24 L511.89 240.85 L514.69 241.45 L517.58 242.02 L520.58 242.58 L523.67 243.11 L526.86 243.63 L530.16 244.12 L533.57 244.60 L537.10 245.06 L540.74 245.50 L544.51 245.93 L548.40 246.34 L552.42 246.74 L556.57 247.12 L560.87 247.49 L565.30 247.85 L569.89 248.19 L574.63 248.52 L579.52 248.84 L584.58 249.15 L589.81 249.45 L595.21 249.73 L600.80 250.01 L606.57 250.27 L612.53 250.53 L618.69 250.77 L625.06 251.01 L631.64 251.24 L638.44 251.46 L645.47 251.67 L652.73 251.88 L660.23 252.08 L667.99 252.27 L676.00 252.45" fill="none" stroke="#f9a43a" stroke-width="1.5" stroke-dasharray="1.3 2.9" clip-path="url(#cb)"/>
<path d="M421.68 25.33 L422.09 32.47 L422.52 39.33 L422.96 45.89 L423.42 52.19 L423.89 58.22 L424.37 64.00 L424.88 69.55 L425.40 74.86 L425.93 79.96 L426.49 84.84 L427.06 89.52 L427.66 94.00 L428.27 98.30 L428.91 102.42 L429.56 106.37 L430.24 110.16 L430.94 113.79 L431.66 117.27 L432.41 120.60 L433.19 123.80 L433.99 126.86 L434.81 129.80 L435.67 132.62 L436.55 135.31 L437.46 137.90 L438.41 140.38 L439.38 142.76 L440.39 145.03 L441.44 147.22 L442.51 149.31 L443.63 151.32 L444.78 153.24 L445.97 155.08 L447.20 156.85 L448.47 158.54 L449.79 160.17 L451.14 161.72 L452.55 163.21 L454.00 164.64 L455.50 166.01 L457.05 167.33 L458.66 168.58 L460.31 169.79 L462.03 170.95 L463.80 172.06 L465.63 173.12 L467.52 174.14 L469.48 175.11 L471.50 176.05 L473.59 176.95 L475.75 177.81 L477.99 178.63 L480.29 179.42 L482.68 180.18 L485.15 180.90 L487.70 181.60 L490.33 182.27 L493.06 182.91 L495.87 183.52 L498.78 184.11 L501.79 184.67 L504.90 185.21 L508.12 185.73 L511.44 186.22 L514.88 186.70 L518.43 187.15 L522.10 187.59 L525.89 188.01 L529.82 188.41 L533.87 188.79 L538.06 189.16 L542.39 189.52 L546.87 189.85 L551.50 190.18 L556.28 190.49 L561.23 190.79 L566.34 191.07 L571.63 191.35 L577.09 191.61 L582.73 191.86 L588.57 192.10 L594.60 192.34 L600.84 192.56 L607.28 192.77 L613.95 192.97 L620.84 193.17 L627.96 193.36 L635.31 193.54 L642.92 193.71 L650.78 193.87 L658.91 194.03 L667.32 194.18 L676.00 194.33" fill="none" stroke="#b23fc0" stroke-width="1.5" stroke-dasharray="1.3 2.9" clip-path="url(#cb)"/>
<path d="M429.26 30.65 L429.34 37.62 L429.41 44.39 L429.49 50.99 L429.58 57.40 L429.66 63.63 L429.75 69.70 L429.85 75.60 L429.94 81.33 L430.04 86.91 L430.14 92.34 L430.25 97.62 L430.36 102.75 L430.47 107.74 L430.58 112.60 L430.70 117.32 L430.83 121.91 L430.96 126.38 L431.09 130.72 L431.23 134.95 L431.37 139.06 L431.51 143.06 L431.66 146.94 L431.82 150.73 L431.98 154.40 L432.15 157.98 L432.32 161.46 L432.50 164.84 L432.68 168.13 L432.87 171.33 L433.07 174.45 L433.27 177.47 L433.48 180.42 L433.70 183.28 L433.92 186.07 L434.15 188.77 L434.39 191.41 L434.64 193.97 L434.90 196.46 L435.16 198.89 L435.43 201.25 L435.71 203.54 L436.01 205.77 L436.31 207.94 L436.62 210.05 L436.94 212.10 L437.27 214.09 L437.61 216.03 L437.97 217.92 L438.34 219.76 L438.71 221.54 L439.11 223.28 L439.51 224.97 L439.93 226.61 L440.36 228.21 L440.81 229.76 L441.27 231.27 L441.75 232.74 L442.24 234.17 L442.75 235.56 L443.28 236.92 L443.82 238.23 L444.38 239.51 L444.96 240.75 L445.56 241.96 L446.18 243.14 L446.82 244.29 L447.49 245.40 L448.17 246.48 L448.88 247.53 L449.61 248.56 L450.36 249.56 L451.15 250.52 L451.95 251.47 L452.79 252.38 L453.65 253.27 L454.54 254.14 L455.46 254.98 L456.41 255.80 L457.39 256.60 L458.41 257.38 L459.46 258.13 L460.54 258.87 L461.66 259.58 L462.82 260.27 L464.02 260.95 L465.25 261.60 L466.53 262.24 L467.85 262.86 L469.22 263.47 L470.63 264.06 L472.09 264.63 L473.59 265.18 L475.15 265.72 L476.76 266.25 L478.42 266.76 L480.14 267.26 L481.91 267.74 L483.75 268.21 L485.65 268.67 L487.60 269.11 L489.63 269.55 L491.72 269.97 L493.88 270.38 L496.12 270.78 L498.43 271.16 L500.81 271.54 L503.28 271.91 L505.83 272.26 L508.46 272.61 L511.18 272.94 L514.00 273.27 L516.90 273.59 L519.91 273.90 L523.01 274.20 L526.22 274.50 L529.53 274.78 L532.96 275.06 L536.50 275.33 L540.16 275.59 L543.94 275.85 L547.84 276.09 L551.88 276.34 L556.05 276.57 L560.36 276.80 L564.82 277.02 L569.42 277.24 L574.18 277.45 L579.10 277.65 L584.18 277.85 L589.43 278.04 L594.86 278.23 L600.47 278.41 L606.26 278.59 L612.25 278.77 L618.44 278.93 L624.83 279.10 L631.44 279.26 L638.27 279.41 L645.33 279.56 L652.62 279.71 L660.16 279.85 L667.95 279.99 L676.00 280.12" fill="none" stroke="#f5222d" stroke-width="1.6" clip-path="url(#cb)"/>
<path d="M413.18 29.15 L413.27 33.83 L413.36 38.41 L413.45 42.89 L413.55 47.26 L413.64 51.54 L413.74 55.72 L413.84 59.82 L413.95 63.82 L414.06 67.73 L414.17 71.56 L414.28 75.30 L414.40 78.96 L414.52 82.53 L414.64 86.03 L414.77 89.45 L414.90 92.80 L415.04 96.07 L415.18 99.27 L415.32 102.40 L415.46 105.46 L415.61 108.45 L415.77 111.37 L415.93 114.23 L416.09 117.03 L416.26 119.77 L416.43 122.44 L416.61 125.06 L416.79 127.61 L416.97 130.12 L417.17 132.56 L417.36 134.95 L417.57 137.29 L417.77 139.58 L417.99 141.82 L418.21 144.00 L418.44 146.14 L418.67 148.23 L418.91 150.28 L419.15 152.28 L419.40 154.23 L419.66 156.15 L419.93 158.02 L420.20 159.84 L420.49 161.63 L420.78 163.38 L421.07 165.09 L421.38 166.76 L421.69 168.40 L422.02 170.00 L422.35 171.56 L422.69 173.09 L423.04 174.58 L423.40 176.05 L423.77 177.48 L424.15 178.87 L424.54 180.24 L424.94 181.58 L425.36 182.89 L425.78 184.16 L426.22 185.41 L426.67 186.64 L427.13 187.83 L427.60 189.00 L428.09 190.14 L428.59 191.26 L429.10 192.36 L429.63 193.42 L430.18 194.47 L430.74 195.49 L431.31 196.49 L431.90 197.47 L432.50 198.42 L433.13 199.36 L433.77 200.27 L434.43 201.17 L435.10 202.04 L435.80 202.90 L436.51 203.73 L437.25 204.55 L438.00 205.35 L438.78 206.13 L439.57 206.89 L440.39 207.64 L441.23 208.37 L442.10 209.09 L442.99 209.78 L443.90 210.47 L444.84 211.14 L445.81 211.79 L446.80 212.43 L447.82 213.05 L448.87 213.66 L449.95 214.26 L451.05 214.85 L452.19 215.42 L453.36 215.98 L454.56 216.52 L455.80 217.06 L457.07 217.58 L458.37 218.09 L459.71 218.59 L461.09 219.08 L462.51 219.56 L463.96 220.02 L465.46 220.48 L467.00 220.93 L468.58 221.36 L470.20 221.79" fill="none" stroke="#2aa89e" stroke-width="1.6" clip-path="url(#cb)"/>
<path d="M445.51 28.16 L445.78 34.30 L446.05 40.27 L446.34 46.09 L446.63 51.74 L446.92 57.24 L447.23 62.59 L447.55 67.80 L447.88 72.87 L448.21 77.79 L448.56 82.59 L448.92 87.25 L449.28 91.79 L449.66 96.20 L450.05 100.50 L450.45 104.68 L450.87 108.74 L451.29 112.70 L451.73 116.54 L452.18 120.28 L452.65 123.93 L453.13 127.47 L453.62 130.91 L454.13 134.27 L454.65 137.53 L455.19 140.70 L455.74 143.79 L456.32 146.79 L456.90 149.71 L457.51 152.55 L458.13 155.32 L458.78 158.01 L459.44 160.63 L460.12 163.17 L460.82 165.65 L461.55 168.06 L462.29 170.40 L463.06 172.68 L463.85 174.90 L464.66 177.06 L465.50 179.16 L466.36 181.20 L467.25 183.19 L468.16 185.12 L469.11 187.00 L470.08 188.83 L471.08 190.61 L472.11 192.35 L473.17 194.03 L474.26 195.67 L475.38 197.27 L476.54 198.82 L477.73 200.33 L478.96 201.79 L480.22 203.22 L481.53 204.61 L482.87 205.96 L484.25 207.28 L485.67 208.56 L487.14 209.80 L488.65 211.02 L490.20 212.19 L491.80 213.34 L493.45 214.46 L495.15 215.54 L496.90 216.60 L498.70 217.62 L500.55 218.62 L502.46 219.59 L504.43 220.54 L506.45 221.46 L508.54 222.35 L510.69 223.22 L512.90 224.07 L515.18 224.89 L517.52 225.70 L519.94 226.48 L522.43 227.23 L524.99 227.97 L527.63 228.69 L530.35 229.39 L533.15 230.07 L536.03 230.73 L539.00 231.37" fill="none" stroke="#f7931e" stroke-width="1.6" clip-path="url(#cb)"/>
<path d="M429.17 28.77 L429.85 36.00 L430.54 42.86 L431.25 49.38 L431.98 55.56 L432.74 61.42 L433.51 66.99 L434.31 72.27 L435.12 77.28 L435.97 82.04 L436.83 86.55 L437.72 90.84 L438.63 94.90 L439.57 98.76 L440.54 102.42 L441.53 105.89 L442.55 109.19 L443.60 112.31 L444.68 115.28 L445.79 118.10 L446.93 120.77 L448.10 123.31 L449.31 125.72 L450.55 128.00 L451.82 130.17 L453.13 132.22 L454.47 134.18 L455.86 136.03 L457.28 137.79 L458.74 139.45 L460.25 141.04 L461.79 142.54 L463.38 143.97 L465.02 145.32 L466.70 146.60 L468.42 147.82 L470.20 148.98" fill="none" stroke="#7a1c8a" stroke-width="1.6" clip-path="url(#cb)"/>
<path d="M402 36.8 V324.2 H676 V36.8" fill="none" stroke="#1a1a1a" stroke-width="1.5"/>
<path d="M402 36.8 H676" fill="none" stroke="#1a1a1a" stroke-width="1.5"/>
<path d="M456.80 324.20v-6 M511.60 324.20v-6 M566.40 324.20v-6 M621.20 324.20v-6 M402.00 276.30h6.2 M402.00 228.40h6.2 M402.00 180.50h6.2 M402.00 132.60h6.2 M402.00 84.70h6.2" stroke="#1a1a1a" stroke-width="1.3" fill="none"/>
<text x="396" y="328.1" text-anchor="end" style="font-size:11px" transform="matrix(1 0 0 1.045 0 -14.76)">0</text>
<text x="396" y="280.2" text-anchor="end" style="font-size:11px" transform="matrix(1 0 0 1.045 0 -12.61)">200</text>
<text x="396" y="232.3" text-anchor="end" style="font-size:11px" transform="matrix(1 0 0 1.045 0 -10.45)">400</text>
<text x="396" y="184.4" text-anchor="end" style="font-size:11px" transform="matrix(1 0 0 1.045 0 -8.3)">600</text>
<text x="396" y="136.5" text-anchor="end" style="font-size:11px" transform="matrix(1 0 0 1.045 0 -6.14)">800</text>
<text x="396" y="88.6" text-anchor="end" style="font-size:11px" transform="matrix(1 0 0 1.045 0 -3.99)">1,000</text>
<text x="396" y="40.7" text-anchor="end" style="font-size:11px" transform="matrix(1 0 0 1.045 0 -1.83)">1,200</text>
<text x="402" y="338.2" text-anchor="middle" style="font-size:11px" transform="matrix(1 0 0 1.045 0 -15.22)">0</text>
<text x="456.8" y="338.2" text-anchor="middle" style="font-size:11px" transform="matrix(1 0 0 1.045 0 -15.22)">20</text>
<text x="511.6" y="338.2" text-anchor="middle" style="font-size:11px" transform="matrix(1 0 0 1.045 0 -15.22)">40</text>
<text x="566.4" y="338.2" text-anchor="middle" style="font-size:11px" transform="matrix(1 0 0 1.045 0 -15.22)">60</text>
<text x="621.2" y="338.2" text-anchor="middle" style="font-size:11px" transform="matrix(1 0 0 1.045 0 -15.22)">80</text>
<text x="676" y="338.2" text-anchor="middle" style="font-size:11px" transform="matrix(1 0 0 1.045 0 -15.22)">100</text>
<text x="544.3" y="353.9" text-anchor="middle" style="font-size:11.5px" transform="matrix(1 0 0 1.045 0 -15.93)">Single-pass conversion (%)</text>
<text transform="translate(362.7 180.2) rotate(-90) scale(1 1.045)" text-anchor="middle" style="font-size:11.6px">Current density (mA cm<tspan dy="-5.6" style="font-size:7.8px">−2</tspan><tspan dy="5.6">)</tspan></text>
<line x1="510" y1="56.7" x2="552.7" y2="56.7" stroke="#f7931e" stroke-width="1.6"/>
<line x1="510" y1="71.1" x2="552.7" y2="71.1" stroke="#f5222d" stroke-width="1.6"/>
<line x1="510" y1="87.7" x2="552.7" y2="87.7" stroke="#7a1c8a" stroke-width="1.6"/>
<line x1="510" y1="103.3" x2="552.7" y2="103.3" stroke="#2aa89e" stroke-width="1.6"/>
<line x1="510.3" y1="117.8" x2="550" y2="117.8" stroke="#1a1a1a" stroke-width="1.6" stroke-dasharray="1.4 2.56"/>
<text x="557.9" y="61.3" style="font-size:10.7px" transform="matrix(1 0 0 1.045 0 -2.76)">CO (AEM)</text>
<text x="557.9" y="75.7" style="font-size:10.7px" transform="matrix(1 0 0 1.045 0 -3.41)">HCOOH (BPM)</text>
<text x="557.9" y="91.5" style="font-size:10.7px" transform="matrix(1 0 0 1.045 0 -4.12)">C<tspan dy="3.2" style="font-size:7px">2</tspan><tspan dy="-3.2">H</tspan><tspan dy="3.2" style="font-size:7px">4</tspan><tspan dy="-3.2"> (AEM)</tspan></text>
<text x="557.9" y="107.5" style="font-size:10.7px" transform="matrix(1 0 0 1.045 0 -4.84)">EtOH (AEM)</text>
<text x="557.9" y="121.9" style="font-size:10.7px" transform="matrix(1 0 0 1.045 0 -5.49)">No bi-/carbonate losses</text>
</svg></body></html>
